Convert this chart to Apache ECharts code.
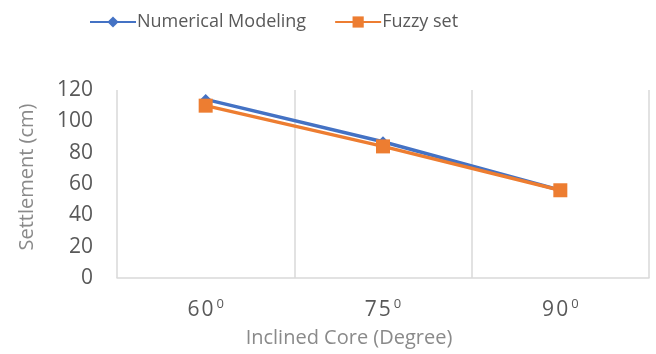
<!DOCTYPE html>
<html>
<head>
<meta charset="utf-8">
<script src="https://cdn.jsdelivr.net/npm/echarts@6/dist/echarts.min.js"></script>
<style>html,body{margin:0;padding:0;background:#fff}#c{width:656px;height:354px}</style>
</head>
<body>
<div id="c"></div>
<script>
const categories = ["60", "75", "90"];
const numericalModeling = [114, 87, 56];
const fuzzySet = [110, 84, 56];
const yTicks = [0, 20, 40, 60, 80, 100, 120];

const FONT = "Open Sans";
const chart = echarts.init(document.getElementById('c'), null, {renderer: 'canvas'});
chart.setOption({
  animation: false,
  textStyle: {fontFamily: FONT},
  legend: {
    top: 8,
    left: 84,
    itemWidth: 46,
    itemHeight: 14,
    itemGap: 28,
    textStyle: {fontFamily: FONT, fontSize: 18, color: '#595959', padding: [0,0,0,-4]},
    data: ['Numerical Modeling', 'Fuzzy set']
  },
  grid: {left: 117, right: 7, top: 90, bottom: 76},
  xAxis: {
    type: 'category',
    data: categories,
    boundaryGap: true,
    name: 'Inclined Core (Degree)',
    nameLocation: 'middle',
    nameGap: 50,
    nameTextStyle: {fontFamily: FONT, fontSize: 20, color: '#8a8a8a', padding: [0, 68, 0, 0]},
    axisLine: {show: true, lineStyle: {color: '#d9d9d9', width: 1.5}},
    axisTick: {show: false},
    splitLine: {show: true, lineStyle: {color: '#d9d9d9', width: 1.5}},
    axisLabel: {
      margin: 20,
      formatter: v => '{n|' + v.split('').join('\u200A') + '}{s|0}',
      rich: {
        n: {fontFamily: FONT, fontSize: 21, color: '#595959'},
        s: {fontFamily: FONT, fontSize: 13, color: '#595959', verticalAlign: 'top', padding: [0,0,12,3]}
      }
    }
  },
  yAxis: {
    type: 'value',
    min: yTicks[0],
    max: yTicks[yTicks.length - 1],
    interval: 20,
    name: 'Settlement (cm)',
    nameLocation: 'middle',
    nameGap: 80,
    nameTextStyle: {fontFamily: FONT, fontSize: 20, color: '#8a8a8a', padding: [0, 0, 0, 14]},
    axisLine: {show: false},
    axisTick: {show: false},
    splitLine: {show: false},
    axisLabel: {margin: 24, fontFamily: FONT, fontSize: 21, color: '#595959'}
  },
  series: [
    {
      name: 'Numerical Modeling',
      type: 'line',
      data: numericalModeling,
      symbol: 'diamond',
      symbolSize: 11,
      lineStyle: {color: '#4472C4', width: 3.5},
      itemStyle: {color: '#4472C4'}
    },
    {
      name: 'Fuzzy set',
      type: 'line',
      data: fuzzySet,
      symbol: 'rect',
      symbolSize: 14,
      lineStyle: {color: '#ED7D31', width: 3.5},
      itemStyle: {color: '#ED7D31'}
    }
  ]
});
</script>
</body>
</html>
